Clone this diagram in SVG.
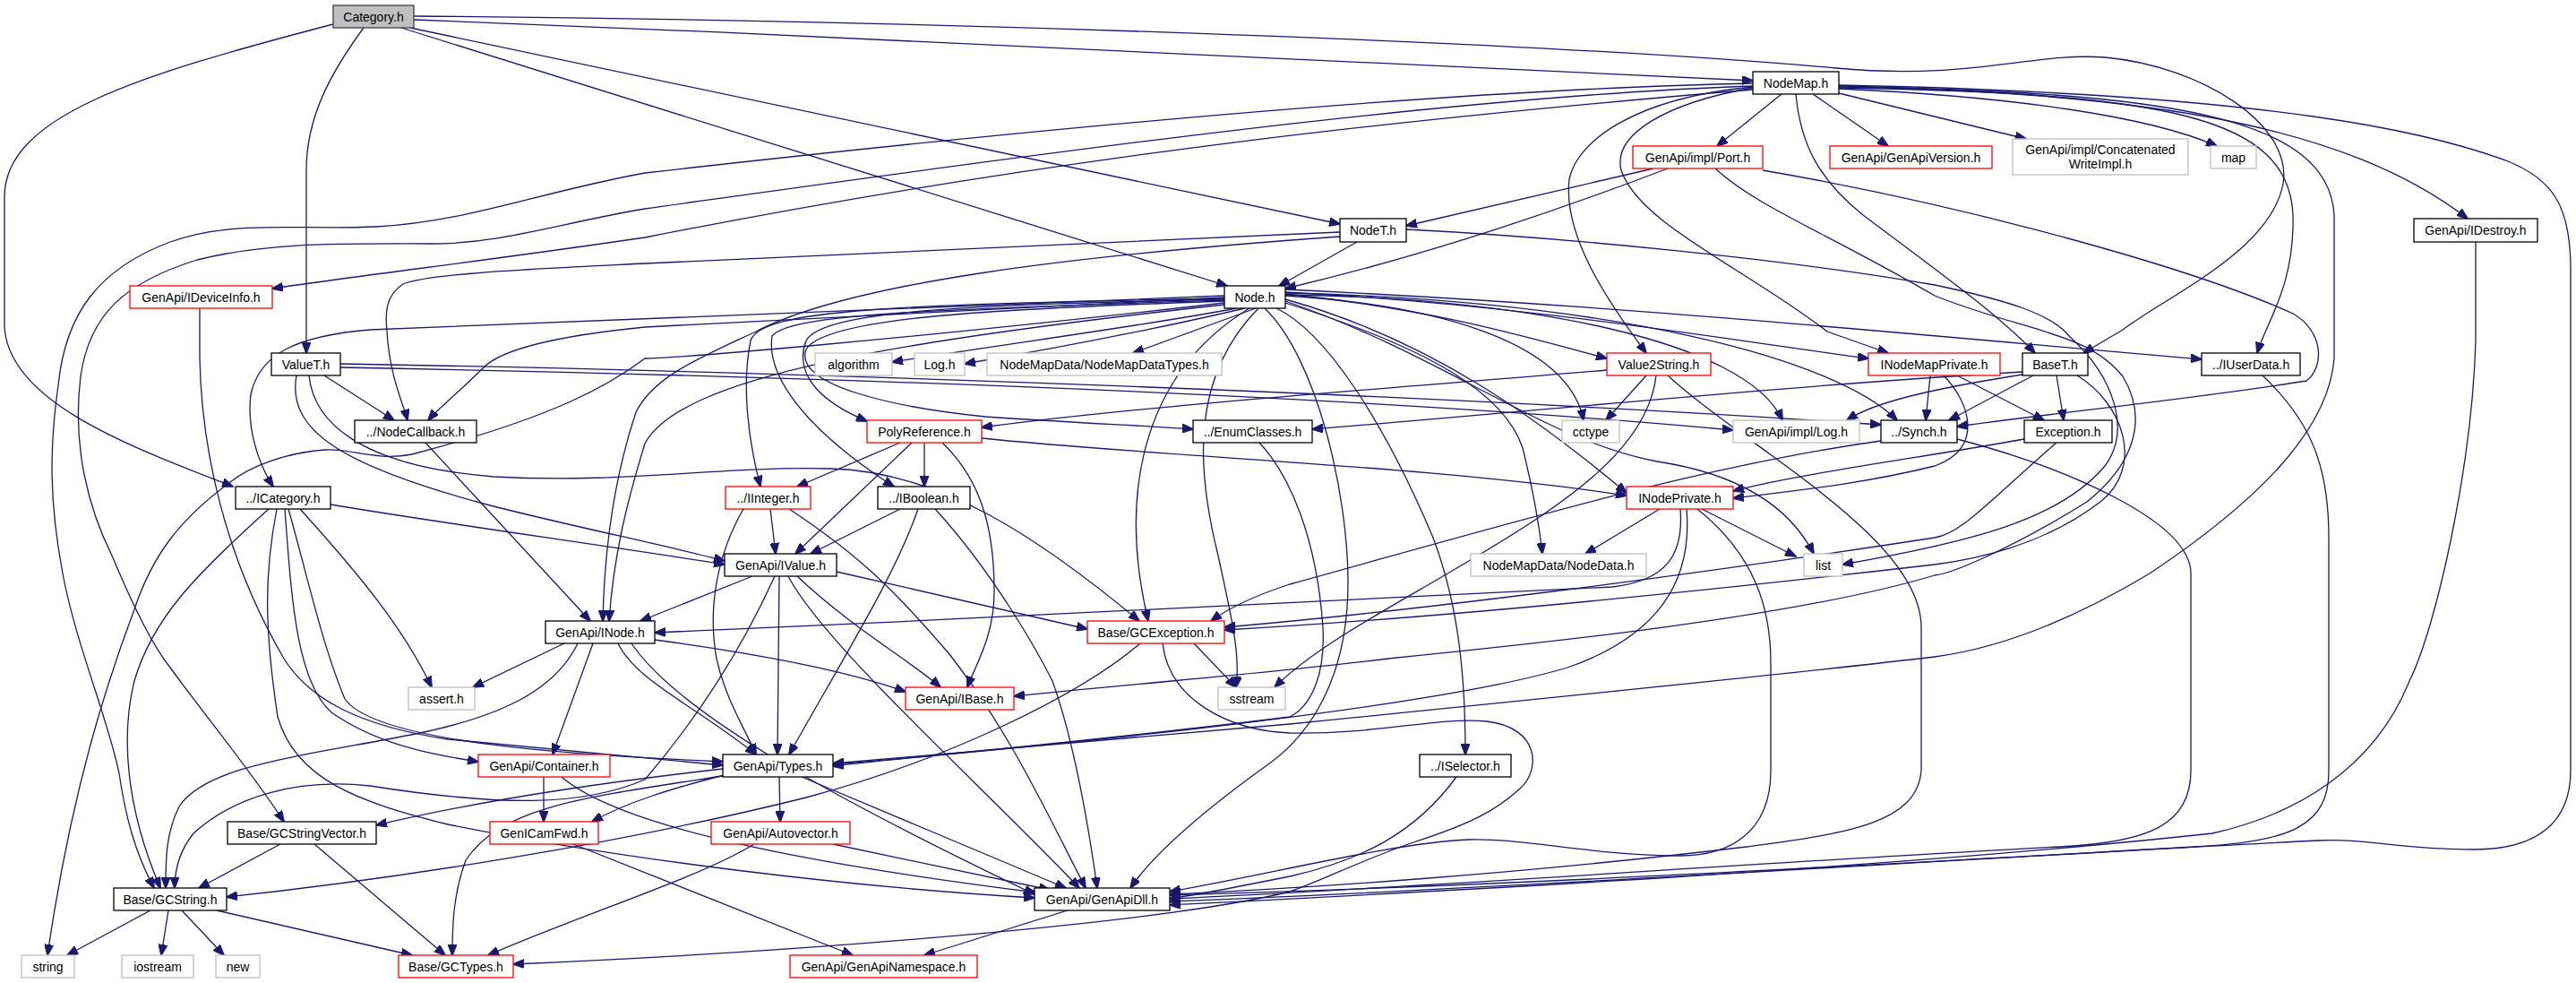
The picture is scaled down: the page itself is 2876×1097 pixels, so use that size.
<svg xmlns="http://www.w3.org/2000/svg" width="2876" height="1097" viewBox="0 0 2876 1097">
<defs>
<style>
.n rect{fill:#fff;stroke:#000;stroke-width:1.3}
.n.r rect{stroke:#ff0000}
.n.g rect{stroke:#bfbfbf}
.n.c rect{fill:#bfbfbf;stroke:#404040}
.n text{font-family:"Liberation Sans",Arial,sans-serif;font-size:14px;fill:#000;text-anchor:middle}
#edges path{fill:none;stroke:#191970;stroke-width:1.3;marker-end:url(#a)}
</style>
<marker id="a" markerWidth="13" markerHeight="10" refX="12" refY="5" orient="auto" markerUnits="userSpaceOnUse"><path d="M0,0L13,5L0,10z" fill="#191970" stroke="#191970" stroke-width="1"/></marker>
</defs>
<rect width="2876" height="1097" fill="#fff"/>
<g id="edges">
<path d="M462,22 C1000,42 1600,75 1957,90"/>
<path d="M462,18 C1000,22 1700,45 2050,76 C2200,90 2270,58 2350,64 C2460,74 2560,140 2549,205 C2535,280 2420,330 2370,368 L2326,394"/>
<path d="M458,31 L1496,250"/>
<path d="M448,31 L1370,319"/>
<path d="M406,31 C370,80 342,130 342,190 L342,394"/>
<path d="M372,27 C150,85 5,130 5,220 L5,365 C10,450 150,500 260,543"/>
<path d="M1989,105 L1917,163"/>
<path d="M2024,105 L2108,163"/>
<path d="M2053,104 L2262,155"/>
<path d="M2053,99 C2250,108 2400,130 2475,163"/>
<path d="M2053,96 C2400,104 2620,140 2755,244"/>
<path d="M2053,98 C2420,104 2555,130 2560,240 C2562,320 2530,360 2520,394"/>
<path d="M2053,97 C2420,102 2600,130 2606,240 L2606,400 C2600,480 2520,560 2400,640 C2300,700 2220,725 2160,733 C2000,752 1700,782 1440,808 C1200,830 1000,846 930,852"/>
<path d="M2053,95 C2550,105 2720,150 2800,180 C2850,200 2870,230 2870,300 L2870,860 C2870,920 2830,948 2762,948 C2680,948 2640,935 2588,938 C2300,952 1800,985 1306,999"/>
<path d="M1957,100 C1600,130 1200,170 720,265 C550,290 420,305 304,322"/>
<path d="M1957,93 C1600,100 1100,150 720,193 C600,215 520,248 420,253 C330,257 260,245 190,270 C110,300 73,350 65,430 C55,500 55,560 70,640 C85,720 120,800 133,863 C140,910 150,950 172,991"/>
<path d="M1957,96 C1600,108 1100,180 720,233 C620,250 560,272 482,272 C380,272 300,270 220,290 C140,315 100,350 90,420 C80,500 100,570 125,620 C150,680 170,720 190,745 C230,800 280,860 317,917"/>
<path d="M1957,97 C1820,110 1760,160 1752,200 C1745,260 1790,330 1838,394"/>
<path d="M1957,98 C1860,115 1800,150 1810,190 C1830,250 1950,300 2040,370 L2108,394"/>
<path d="M2005,105 C2010,160 2030,200 2080,240 C2160,300 2230,350 2272,394"/>
<path d="M1846,188 L1570,252"/>
<path d="M1862,188 C1700,250 1550,295 1435,322"/>
<path d="M1968,190 C2200,230 2450,300 2560,350 C2595,370 2595,410 2575,425 C2450,445 2300,460 2185,476"/>
<path d="M1915,188 C1960,230 2040,260 2160,330 C2260,370 2330,370 2370,420 C2400,470 2380,520 2330,560 C2250,610 2180,640 2160,642 C2000,690 1700,720 1550,735 C1450,748 1300,760 1132,777"/>
<path d="M1515,270 L1428,319"/>
<path d="M1496,259 C1200,270 950,285 720,294 C600,300 480,305 450,317 C430,330 430,350 432,370 C435,420 450,450 455,469"/>
<path d="M1496,264 C1200,285 950,315 844,370 C780,400 730,420 710,460 C690,520 675,600 673,693"/>
<path d="M1570,256 C1750,265 2000,290 2160,318 C2240,335 2290,350 2310,375 C2360,420 2380,480 2350,520 C2300,580 2200,605 2057,630"/>
<path d="M1380,344 C1300,360 1150,380 996,404"/>
<path d="M1390,344 C1300,365 1200,385 1077,406"/>
<path d="M1402,344 L1265,394"/>
<path d="M1367,334 C1100,340 920,345 900,380 C885,420 920,450 968,470"/>
<path d="M1367,333 C1000,340 850,345 838,380 C828,430 835,490 849,543"/>
<path d="M1367,335 C1050,345 880,350 862,375 C855,420 900,480 998,543"/>
<path d="M1367,336 C1100,345 920,355 900,390 C885,430 1000,455 1100,465 C1200,472 1280,475 1332,479"/>
<path d="M1435,328 C1600,345 1700,375 1794,400"/>
<path d="M1435,326 C1700,340 1900,375 2086,400"/>
<path d="M1435,323 C1800,340 2100,370 2458,401"/>
<path d="M1435,330 C1600,340 1750,380 1768,469"/>
<path d="M1435,329 C1700,332 1950,380 1990,469"/>
<path d="M1435,327 C1800,335 2050,400 2118,469"/>
<path d="M1435,334 C1600,380 1720,470 1816,550"/>
<path d="M1435,338 C1600,390 1680,440 1700,500 C1715,560 1720,600 1722,618"/>
<path d="M1435,336 C1620,400 1720,490 1850,515 C1950,530 2000,570 2025,618"/>
<path d="M1405,344 C1330,420 1335,520 1360,620 C1375,690 1385,730 1380,767"/>
<path d="M1395,344 C1270,420 1250,560 1282,693"/>
<path d="M1425,344 C1480,370 1545,470 1600,600 C1630,680 1636,760 1636,842"/>
<path d="M1412,344 C1470,400 1505,550 1505,650 C1505,760 1460,820 1420,850 C1350,900 1290,950 1262,991"/>
<path d="M1367,340 C1000,380 760,420 720,495 C700,560 685,620 680,693"/>
<path d="M1367,330 C1000,345 700,355 413,368 C330,375 290,395 280,440 C275,480 290,520 305,543"/>
<path d="M1367,332 C1000,350 800,360 720,365 C620,375 560,390 540,410 C510,440 490,455 478,469"/>
<path d="M1367,338 C1000,380 750,400 720,400 C680,430 620,465 460,507 C420,515 390,500 363,502 C320,505 280,520 257,538 C200,580 170,620 150,680 C120,760 80,880 53,1066"/>
<path d="M362,419 L440,469"/>
<path d="M331,419 C320,480 380,520 551,565 C650,590 750,610 809,626"/>
<path d="M345,419 C350,470 400,520 551,532 C700,540 800,520 927,523 C1050,526 1160,600 1272,693"/>
<path d="M380,410 C900,420 1500,440 1935,480"/>
<path d="M380,406 C900,415 1600,440 2100,474"/>
<path d="M369,563 C500,585 700,612 809,630"/>
<path d="M300,568 C220,640 170,690 150,760 C135,820 140,900 179,991"/>
<path d="M309,568 C295,640 295,700 310,800 C330,870 400,895 500,920 C700,960 950,990 1155,1002"/>
<path d="M318,568 C325,660 330,760 370,795 C420,830 480,842 534,850"/>
<path d="M322,568 C345,650 360,720 385,780 C420,830 650,843 807,850"/>
<path d="M335,568 C400,640 450,700 482,767"/>
<path d="M223,344 L223,400 C225,500 250,620 317,735 C345,780 400,810 500,825 C650,840 750,848 807,854"/>
<path d="M475,494 L659,693"/>
<path d="M1005,494 L890,543"/>
<path d="M1032,494 L1032,543"/>
<path d="M1018,494 L888,618"/>
<path d="M1052,494 C1100,540 1110,600 1110,660 C1110,710 1090,740 1080,767"/>
<path d="M1096,489 C1300,510 1600,520 1816,553"/>
<path d="M1794,413 C1600,430 1300,450 1096,477"/>
<path d="M1838,419 L1793,469"/>
<path d="M1849,419 C1840,500 1750,560 1650,620 C1550,680 1470,720 1423,767"/>
<path d="M1862,419 C1950,500 2145,600 2145,700 L2145,860 C2140,920 2060,930 1950,945 C1700,975 1450,992 1306,998"/>
<path d="M2155,419 L2150,469"/>
<path d="M2185,419 L2282,469"/>
<path d="M2170,419 C2200,450 2215,500 2160,520 C2080,540 2000,548 1935,556"/>
<path d="M2258,415 C2000,430 1700,460 1465,479"/>
<path d="M2258,418 C2150,435 2090,450 2062,469"/>
<path d="M2270,419 L2176,469"/>
<path d="M2296,419 L2304,469"/>
<path d="M2319,419 C2370,450 2395,520 2345,560 C2280,610 2200,625 2160,630 C1900,660 1600,690 1367,703"/>
<path d="M2260,490 C2150,510 2000,530 1935,548"/>
<path d="M2296,494 C2220,560 2190,595 2160,600 C1900,640 1600,680 1367,700"/>
<path d="M2100,492 C1900,520 1700,580 1440,652 C1400,665 1370,680 1352,693"/>
<path d="M2185,490 C2300,520 2446,580 2446,640 L2446,860 C2446,920 2400,940 2300,945 C2000,960 1600,990 1306,1003"/>
<path d="M2526,419 C2580,470 2600,520 2600,600 L2600,860 C2600,920 2560,940 2450,945 C2100,965 1600,995 1306,1006"/>
<path d="M2764,270 L2764,380 C2760,520 2720,700 2690,760 C2650,860 2560,910 2470,930 C2100,970 1600,995 1306,1010"/>
<path d="M1406,494 C1440,530 1470,600 1477,700 C1480,760 1460,790 1440,800 C1200,830 1000,846 930,855"/>
<path d="M1853,568 L1770,618"/>
<path d="M1900,568 L2005,621"/>
<path d="M1876,568 C1880,620 1860,648 1800,655 C1500,670 1100,690 731,706"/>
<path d="M1883,568 C1890,650 1850,710 1750,745 C1600,790 1200,830 930,853"/>
<path d="M1895,568 C1960,620 1977,680 1977,740 L1977,860 C1977,930 1930,955 1876,955 C1780,955 1700,935 1640,937 C1560,940 1420,975 1306,995"/>
<path d="M1626,867 C1580,930 1520,960 1440,978 C1380,990 1340,998 1306,1003"/>
<path d="M1273,718 C1200,780 1050,850 900,890 C700,940 450,980 253,1001"/>
<path d="M1298,718 C1305,780 1370,815 1440,818 C1540,820 1600,800 1660,805 C1720,812 1720,860 1697,880 C1670,905 1640,920 1578,940 C1520,960 1470,985 1440,995 C1300,1030 900,1062 573,1076"/>
<path d="M1333,718 L1380,767"/>
<path d="M840,643 L715,693"/>
<path d="M870,643 L868,842"/>
<path d="M890,643 C950,700 1020,740 1050,767"/>
<path d="M880,643 C920,720 1100,880 1205,991"/>
<path d="M934,638 L1214,702"/>
<path d="M865,643 C830,720 780,800 720,870 C650,900 560,900 413,877 C330,868 260,890 216,930 C200,950 195,970 195,991"/>
<path d="M830,568 C800,620 790,680 800,735 C810,780 830,810 844,842"/>
<path d="M860,568 L866,618"/>
<path d="M881,568 C960,620 1000,660 1060,730 C1130,820 1175,920 1212,991"/>
<path d="M1005,568 L905,618"/>
<path d="M1025,568 C1000,640 950,720 881,842"/>
<path d="M1044,568 C1110,640 1160,730 1175,760 C1200,830 1215,920 1225,991"/>
<path d="M630,718 L528,767"/>
<path d="M662,718 L617,842"/>
<path d="M645,718 C620,770 560,800 459,820 C330,845 230,855 200,900 C185,930 185,960 185,991"/>
<path d="M690,718 C710,760 780,790 844,842"/>
<path d="M705,718 C760,800 950,900 1155,998"/>
<path d="M731,714 C850,730 950,750 1011,772"/>
<path d="M607,867 L607,917"/>
<path d="M627,867 C700,930 950,970 1157,996"/>
<path d="M870,867 L871,917"/>
<path d="M895,867 L1190,991"/>
<path d="M807,858 C700,870 550,890 420,921"/>
<path d="M812,864 C750,880 700,895 661,917"/>
<path d="M807,866 C650,890 560,900 520,960 C505,1000 505,1040 505,1066"/>
<path d="M640,942 L952,1066"/>
<path d="M930,942 L1172,993"/>
<path d="M842,942 C780,980 650,1020 545,1066"/>
<path d="M313,942 L222,991"/>
<path d="M351,942 L497,1066"/>
<path d="M168,1016 L75,1066"/>
<path d="M188,1016 L180,1066"/>
<path d="M203,1016 L250,1066"/>
<path d="M242,1016 L460,1066"/>
<path d="M1192,1016 L1032,1066"/>
</g>
<g id="n1" class="n c"><rect x="372" y="6" width="90" height="25"/><text x="417" y="23.5">Category.h</text></g>
<g id="n2" class="n"><rect x="1957" y="80" width="96" height="25"/><text x="2005" y="97.5">NodeMap.h</text></g>
<g id="n3" class="n r"><rect x="1823" y="163" width="145" height="25"/><text x="1895.5" y="180.5">GenApi/impl/Port.h</text></g>
<g id="n4" class="n r"><rect x="2043" y="163" width="181" height="25"/><text x="2133.5" y="180.5">GenApi/GenApiVersion.h</text></g>
<g id="n5" class="n g"><rect x="2247" y="155" width="196" height="40"/><text x="2345" y="172">GenApi/impl/Concatenated</text><text x="2345" y="188">WriteImpl.h</text></g>
<g id="n6" class="n g"><rect x="2468" y="163" width="51" height="25"/><text x="2493.5" y="180.5">map</text></g>
<g id="n7" class="n"><rect x="2695" y="244" width="138" height="26"/><text x="2764" y="262">GenApi/IDestroy.h</text></g>
<g id="n8" class="n"><rect x="1496" y="244" width="74" height="26"/><text x="1533" y="262">NodeT.h</text></g>
<g id="n9" class="n r"><rect x="145" y="319" width="159" height="25"/><text x="224.5" y="336.5">GenApi/IDeviceInfo.h</text></g>
<g id="n10" class="n"><rect x="1367" y="319" width="68" height="25"/><text x="1401" y="336.5">Node.h</text></g>
<g id="n11" class="n"><rect x="303" y="394" width="77" height="25"/><text x="341.5" y="411.5">ValueT.h</text></g>
<g id="n12" class="n g"><rect x="910" y="394" width="86" height="25"/><text x="953" y="411.5">algorithm</text></g>
<g id="n13" class="n g"><rect x="1021" y="394" width="56" height="25"/><text x="1049" y="411.5">Log.h</text></g>
<g id="n14" class="n g"><rect x="1102" y="394" width="262" height="25"/><text x="1233" y="411.5">NodeMapData/NodeMapDataTypes.h</text></g>
<g id="n15" class="n r"><rect x="1794" y="394" width="116" height="25"/><text x="1852" y="411.5">Value2String.h</text></g>
<g id="n16" class="n r"><rect x="2086" y="394" width="147" height="25"/><text x="2159.5" y="411.5">INodeMapPrivate.h</text></g>
<g id="n17" class="n"><rect x="2258" y="394" width="73" height="25"/><text x="2294.5" y="411.5">BaseT.h</text></g>
<g id="n18" class="n"><rect x="2458" y="394" width="110" height="25"/><text x="2513" y="411.5">../IUserData.h</text></g>
<g id="n19" class="n"><rect x="396" y="469" width="136" height="25"/><text x="464" y="486.5">../NodeCallback.h</text></g>
<g id="n20" class="n r"><rect x="968" y="469" width="128" height="25"/><text x="1032" y="486.5">PolyReference.h</text></g>
<g id="n21" class="n"><rect x="1332" y="469" width="133" height="25"/><text x="1398.5" y="486.5">../EnumClasses.h</text></g>
<g id="n22" class="n g"><rect x="1744" y="469" width="64" height="25"/><text x="1776" y="486.5">cctype</text></g>
<g id="n23" class="n g"><rect x="1935" y="469" width="141" height="25"/><text x="2005.5" y="486.5">GenApi/impl/Log.h</text></g>
<g id="n24" class="n"><rect x="2100" y="469" width="85" height="25"/><text x="2142.5" y="486.5">../Synch.h</text></g>
<g id="n25" class="n"><rect x="2260" y="469" width="98" height="25"/><text x="2309" y="486.5">Exception.h</text></g>
<g id="n26" class="n"><rect x="263" y="543" width="106" height="25"/><text x="316" y="560.5">../ICategory.h</text></g>
<g id="n27" class="n r"><rect x="810" y="543" width="95" height="25"/><text x="857.5" y="560.5">../IInteger.h</text></g>
<g id="n28" class="n"><rect x="980" y="543" width="103" height="25"/><text x="1031.5" y="560.5">../IBoolean.h</text></g>
<g id="n29" class="n r"><rect x="1816" y="543" width="119" height="25"/><text x="1875.5" y="560.5">INodePrivate.h</text></g>
<g id="n30" class="n"><rect x="809" y="618" width="125" height="25"/><text x="871.5" y="635.5">GenApi/IValue.h</text></g>
<g id="n31" class="n g"><rect x="1642" y="618" width="196" height="25"/><text x="1740" y="635.5">NodeMapData/NodeData.h</text></g>
<g id="n32" class="n g"><rect x="2014" y="618" width="43" height="25"/><text x="2035.5" y="635.5">list</text></g>
<g id="n33" class="n"><rect x="609" y="693" width="122" height="25"/><text x="670" y="710.5">GenApi/INode.h</text></g>
<g id="n34" class="n r"><rect x="1214" y="693" width="153" height="25"/><text x="1290.5" y="710.5">Base/GCException.h</text></g>
<g id="n35" class="n g"><rect x="456" y="767" width="74" height="25"/><text x="493" y="784.5">assert.h</text></g>
<g id="n36" class="n r"><rect x="1011" y="767" width="121" height="25"/><text x="1071.5" y="784.5">GenApi/IBase.h</text></g>
<g id="n37" class="n g"><rect x="1360" y="767" width="75" height="25"/><text x="1397.5" y="784.5">sstream</text></g>
<g id="n38" class="n r"><rect x="534" y="842" width="147" height="25"/><text x="607.5" y="859.5">GenApi/Container.h</text></g>
<g id="n39" class="n"><rect x="807" y="842" width="123" height="25"/><text x="868.5" y="859.5">GenApi/Types.h</text></g>
<g id="n40" class="n"><rect x="1585" y="842" width="102" height="25"/><text x="1636" y="859.5">../ISelector.h</text></g>
<g id="n41" class="n"><rect x="254" y="917" width="166" height="25"/><text x="337" y="934.5">Base/GCStringVector.h</text></g>
<g id="n42" class="n r"><rect x="547" y="917" width="121" height="25"/><text x="607.5" y="934.5">GenICamFwd.h</text></g>
<g id="n43" class="n r"><rect x="794" y="917" width="155" height="25"/><text x="871.5" y="934.5">GenApi/Autovector.h</text></g>
<g id="n44" class="n"><rect x="127" y="991" width="126" height="25"/><text x="190" y="1008.5">Base/GCString.h</text></g>
<g id="n45" class="n"><rect x="1155" y="991" width="151" height="25"/><text x="1230.5" y="1008.5">GenApi/GenApiDll.h</text></g>
<g id="n46" class="n g"><rect x="24" y="1066" width="59" height="25"/><text x="53.5" y="1083.5">string</text></g>
<g id="n47" class="n g"><rect x="136" y="1066" width="80" height="25"/><text x="176" y="1083.5">iostream</text></g>
<g id="n48" class="n g"><rect x="241" y="1066" width="49" height="25"/><text x="265.5" y="1083.5">new</text></g>
<g id="n49" class="n r"><rect x="445" y="1066" width="128" height="25"/><text x="509" y="1083.5">Base/GCTypes.h</text></g>
<g id="n50" class="n r"><rect x="882" y="1066" width="209" height="25"/><text x="986.5" y="1083.5">GenApi/GenApiNamespace.h</text></g>
</svg>
